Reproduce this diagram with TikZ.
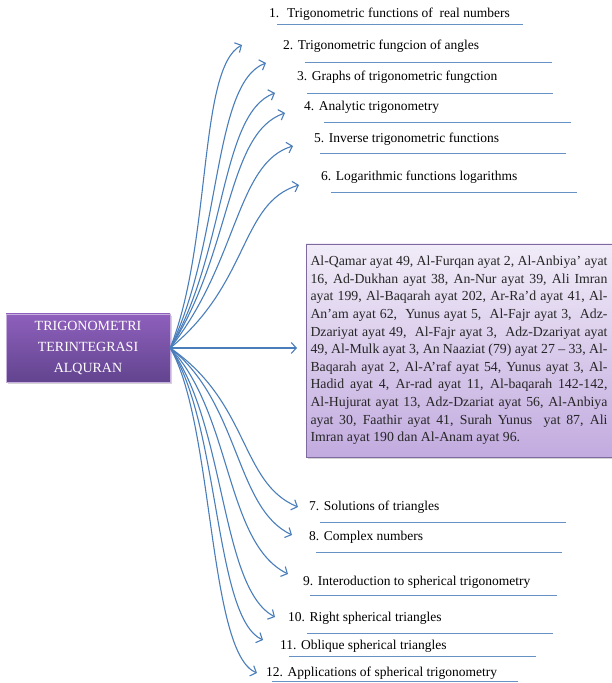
\documentclass[tikz,border=0pt]{standalone}
\usepackage{fontspec}
\setmainfont{Liberation Serif}
\usetikzlibrary{arrows.meta,shadows}
\definecolor{arrblue}{HTML}{4A7EBB}
\definecolor{purtop}{HTML}{8E60BC}
\definecolor{purbot}{HTML}{62448F}
\definecolor{lavtop}{HTML}{F1ECF8}
\definecolor{lavbot}{HTML}{C2ABDF}
\definecolor{lavline}{HTML}{7E6A9E}
\tikzset{mainbox/.style={draw=purtop!50!white, thin, rectangle, top color=purtop, bottom color=purbot, minimum width=164pt, minimum height=68pt, text=white, align=center, font=\fontsize{14}{21}\selectfont, drop shadow={opacity=0.35,shadow xshift=2pt,shadow yshift=-2pt}},
         ayatbox/.style={draw=lavline, thin, rectangle, top color=lavtop, bottom color=lavbot, text width=297pt, inner xsep=4.5pt, minimum height=213pt, align=justify, text=black!85, font=\fontsize{13.8}{17.6}\selectfont, drop shadow={opacity=0.35,shadow xshift=2pt,shadow yshift=-2pt}},
         topic/.style={anchor=west, inner sep=0pt, font=\fontsize{13.5}{15}\selectfont},
         uline/.style={arrblue!85, line width=0.8pt},
         arr/.style={arrblue, line width=1.1pt, -{Straight Barb[length=5pt,width=11pt]}}}

\begin{document}
\begin{tikzpicture}[x=1pt,y=1pt]
        \useasboundingbox (0,0) rectangle (611,683);
        \node[mainbox](trig)at(88,335){TRIGONOMETRI\\TERINTEGRASI\\ALQURAN};
        \node[ayatbox](ayat)at(459,332.5){Al-Qamar ayat 49, Al-Furqan ayat 2, Al-Anbiya’ ayat\linebreak
        16, Ad-Dukhan ayat 38, An-Nur ayat 39, Ali Imran\linebreak
        ayat 199, Al-Baqarah ayat 202, Ar-Ra’d ayat 41, Al-\linebreak
        An’am ayat 62,~ Yunus ayat 5,~ Al-Fajr ayat 3,~ Adz-\linebreak
        Dzariyat ayat 49,~ Al-Fajr ayat 3,~ Adz-Dzariyat ayat\linebreak
        49, Al-Mulk ayat 3, An Naaziat (79) ayat 27 – 33, Al-\linebreak
        Baqarah ayat 2, Al-A’raf ayat 54, Yunus ayat 3, Al-\linebreak
        Hadid ayat 4, Ar-rad ayat 11, Al-baqarah 142-142,\linebreak
        Al-Hujurat ayat 13, Adz-Dzariat ayat 56, Al-Anbiya\linebreak
        ayat 30, Faathir ayat 41, Surah Yunus~ yat 87, Ali\linebreak
        Imran ayat 190 dan Al-Anam ayat 96.};

        % topics
        \node[topic](t1)at(269,669){1.~ Trigonometric functions of~ real numbers};
        \node[topic](t2)at(283,637){2. Trigonometric fungcion of angles};
        \node[topic](t3)at(297,606){3. Graphs of trigonometric fungction};
        \node[topic](t4)at(304,576){4. Analytic trigonometry};
        \node[topic](t5)at(314,544){5. Inverse trigonometric functions};
        \node[topic](t6)at(321,506){6. Logarithmic functions logarithms};
        \node[topic](t7)at(309,176){7. Solutions of triangles};
        \node[topic](t8)at(309,146){8. Complex numbers};
        \node[topic](t9)at(303,101){9. Interoduction to spherical trigonometry};
        \node[topic](t10)at(288,65){10. Right spherical triangles};
        \node[topic](t11)at(280,37){11. Oblique spherical triangles};
        \node[topic](t12)at(266,10){12. Applications of spherical trigonometry};

        \draw[uline](277,659)--(523,659);
        \draw[uline](305,621)--(552,621);
        \draw[uline](307,590)--(553,590);
        \draw[uline](324,561)--(571,561);
        \draw[uline](320,530)--(566,530);
        \draw[uline](331,491)--(577,491);
        \draw[uline](320,161)--(566,161);
        \draw[uline](316,131)--(562,131);
        \draw[uline](310,88)--(557,88);
        \draw[uline](307,50)--(553,50);
        \draw[uline](289,27)--(536,27);
        \draw[uline](272,2)--(518,2);

        % arrow tips
        \coordinate(e1)at(242,638);
        \coordinate(e2)at(266,620);
        \coordinate(e3)at(275,590);
        \coordinate(e4)at(285,570);
        \coordinate(e5)at(293,537);
        \coordinate(e6)at(299,498);
        \coordinate(e7)at(298,176);
        \coordinate(e8)at(292,148);
        \coordinate(e9)at(288,109);
        \coordinate(e10)at(275,66);
        \coordinate(e11)at(263,43);
        \coordinate(e12)at(257,10);
        \coordinate(em)at(297,335);

        \draw[arr](trig.east)--(em);
        \draw[arr](trig.east)..controls(212,440)and(198,615)..(e1);
        \draw[arr](trig.east)..controls(222,440)and(212,600)..(e2);
        \draw[arr](trig.east)..controls(226,430)and(220,570)..(e3);
        \draw[arr](trig.east)..controls(232,430)and(226,550)..(e4);
        \draw[arr](trig.east)..controls(238,420)and(236,520)..(e5);
        \draw[arr](trig.east)..controls(250,400)and(240,480)..(e6);
        \draw[arr](trig.east)..controls(250,280)and(240,200)..(e7);
        \draw[arr](trig.east)..controls(240,280)and(235,175)..(e8);
        \draw[arr](trig.east)..controls(232,270)and(225,140)..(e9);
        \draw[arr](trig.east)..controls(226,260)and(220,95)..(e10);
        \draw[arr](trig.east)..controls(220,260)and(214,65)..(e11);
        \draw[arr](trig.east)..controls(214,260)and(208,30)..(e12);
    \end{tikzpicture}
\end{document}
